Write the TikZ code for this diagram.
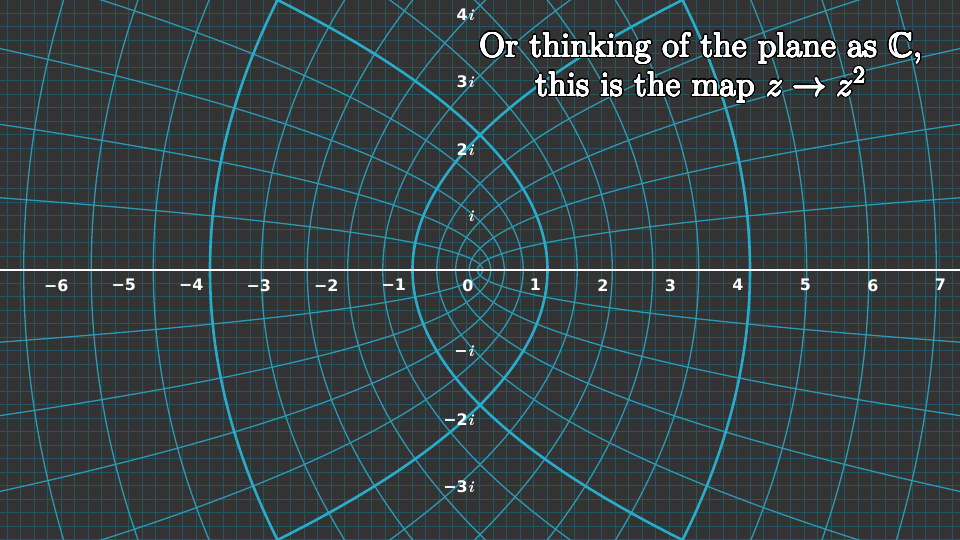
\documentclass[tikz,border=0pt]{standalone}
\usepackage{amsmath,amssymb}
\usepackage{fontspec}
\newfontfamily\numfont{DejaVu Sans}
\usepackage[copies]{contour}
\contourlength{0.45pt}
\contournumber{16}
\definecolor{bgcol}{HTML}{333333}
\definecolor{gridcol}{RGB}{36,86,98}
\definecolor{curvecol}{HTML}{29ABCA}
\newcommand{\imi}{{\rmfamily\bfseries\itshape i}}
\newcommand{\outlined}[1]{\leavevmode\rlap{\contourlength{0.85pt}\contour{black}{#1}}{\contourlength{0.22pt}\contour{white}{#1}}}

\tikzset{
    bggrid/.style={gridcol,line width=0.42pt},
    curve/.style={curvecol!85!bgcol,line width=0.55pt},
    unitcurve/.style={curvecol,line width=1.1pt},
    axisline/.style={white,line width=0.9pt},
    numlabel/.style={anchor=north east,inner sep=0pt,text=white,
        font=\numfont\bfseries\fontsize{6.7}{8}\selectfont},
    titletext/.style={anchor=base,inner sep=0pt,text=white,
        font=\fontsize{14.4}{17}\selectfont}
}

\begin{document}
\begin{tikzpicture}[scale=1]
        \useasboundingbox (-7.1111,-4) rectangle (7.1111,4);
        \fill[bgcol] (-7.1111,-4) rectangle (7.1111,4);
        \clip (-7.1111,-4) rectangle (7.1111,4);

        % grid
        \draw[bggrid] (-7.4,-4.2) grid[step=2mm] (7.4,4.2);

        % images of the lines x = a
        \foreach \k in {1,2,3,4,6,7,8,9,11,12,13,14} {
            \pgfmathsetmacro\a{\k/5}
            \pgfmathsetmacro\tm{min(sqrt(\a*\a+7.4),2.1/\a)}
            \draw[curve] plot[domain=-\tm:\tm,samples=80,smooth,variable=\t] ({\a*\a-\t*\t},{2*\a*\t});
        }

        % images of the lines y = b
        \foreach \k in {1,2,3,4,6,7,8,9,11,12,13,14} {
            \pgfmathsetmacro\b{\k/5}
            \pgfmathsetmacro\tm{min(sqrt(\b*\b+7.4),2.1/\b)}
            \draw[curve] plot[domain=-\tm:\tm,samples=80,smooth,variable=\t] ({\t*\t-\b*\b},{2*\b*\t});
        }

        % unit lines
        \foreach \a in {1,2} {
            \pgfmathsetmacro\tm{min(sqrt(\a*\a+7.4),2.1/\a)}
            \draw[unitcurve] plot[domain=-\tm:\tm,samples=80,smooth,variable=\t] ({\a*\a-\t*\t},{2*\a*\t});
            \draw[unitcurve] plot[domain=-\tm:\tm,samples=80,smooth,variable=\t] ({\t*\t-\a*\a},{2*\a*\t});
        }

        % axis
        \draw[axisline] (-7.2,0) -- (7.2,0);

        % real axis labels
        \node[numlabel] (zero) at (-0.09,-0.13) {0};
        \foreach \n in {1,...,7} {
            \node[numlabel] (repos\n) at (\n-0.09,-0.13) {\n};
            \node[numlabel] (reneg\n) at (-\n-0.09,-0.13) {−\n};
        }

        % imaginary axis labels
        \node[numlabel] (impos1) at (-0.09,0.88) {\imi};
        \foreach \n in {2,3,4}
            \node[numlabel] (impos\n) at (-0.09,\n-0.12) {\n\imi};
        \node[numlabel] (imneg1) at (-0.09,-1.12) {−\imi};
        \foreach \n in {2,3}
            \node[numlabel] (imneg\n) at (-0.09,-\n-0.12) {−\n\imi};

        % caption
        \node[titletext] (lineone) at (3.27,3.16) {\outlined{Or thinking of the plane as $\mathbb{C}$,}};
        \node[titletext] (linetwo) at (3.27,2.58) {\outlined{this is the map $z \to z^2$}};
    \end{tikzpicture}
\end{document}
